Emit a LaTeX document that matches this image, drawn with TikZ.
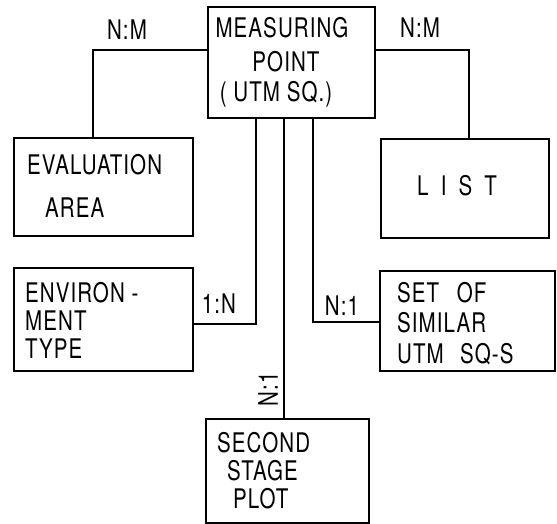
\documentclass[tikz,border=0pt]{standalone}
\usepackage{fontspec}
\setmainfont[FakeStretch=0.76,LetterSpace=4]{TeX Gyre Heros}
\usetikzlibrary{calc}
\begin{document}
\begin{tikzpicture}[x=1pt,y=-1pt,
  box/.style={draw,line width=2.2pt,rectangle,inner sep=0pt,anchor=north west},
  link/.style={line width=1.8pt},
  txt/.style={inner sep=0pt,anchor=base west,font=\fontsize{27}{27}\selectfont},
  ctxt/.style={inner sep=0pt,anchor=base,font=\fontsize{27}{27}\selectfont}]
\useasboundingbox (0,0) rectangle (557,524);
% boxes
\node[box,minimum width=167pt,minimum height=111pt] (mp) at (207,6) {};
\node[box,minimum width=179pt,minimum height=98pt] (eval) at (13,137) {};
\node[box,minimum width=168pt,minimum height=99pt] (list) at (380,138) {};
\node[box,minimum width=179pt,minimum height=103pt] (env) at (13,267) {};
\node[box,minimum width=175pt,minimum height=100pt] (set) at (379,270) {};
\node[box,minimum width=163pt,minimum height=104pt] (ssp) at (205,418) {};
% texts
\node[ctxt] (t1) at (282,38) {MEASURING};
\node[ctxt] (t2) at (286,72) {POINT};
\node[ctxt] (t3) at (276,102) {( UTM SQ.)};
\node[txt] (t4) at (27,175) {EVALUATION};
\node[txt] (t5) at (45,217) {AREA};
\node[txt] (t6) at (417,196) {L\hspace{0.45em}I\hspace{0.45em}S\hspace{0.45em}T};
\node[txt] (t7) at (25,302) {ENVIRON -};
\node[txt] (t8) at (25,330) {MENT};
\node[txt] (t9) at (25,358) {TYPE};
\node[txt] (t10) at (397,302) {SET\hspace{0.4em} OF};
\node[txt] (t11) at (397,332) {SIMILAR};
\node[txt] (t12) at (397,363) {UTM\hspace{0.35em} SQ-S};
\node[txt] (t13) at (217,452) {SECOND};
\node[txt] (t14) at (227,480) {STAGE};
\node[txt] (t15) at (233,508) {PLOT};
% connectors
\draw[link] ($(mp.north west)+(0,44)$) -| ($(eval.north west)+(80,0)$);
\draw[link] ($(mp.north east)+(0,44)$) -| ($(list.north west)+(89,0)$);
\draw[link] ($(mp.south west)+(49,0)$) |- ($(env.south east)+(0,-48)$);
\draw[link] ($(mp.south west)+(106,0)$) |- ($(set.south west)+(0,-50)$);
\draw[link] ($(mp.south west)+(77,0)$) -- ($(ssp.north west)+(79,0)$);
% labels
\node[ctxt] (l1) at (127,40) {N:M};
\node[ctxt] (l2) at (420,38) {N:M};
\node[ctxt] (l3) at (219,313) {1:N};
\node[ctxt] (l4) at (342,315) {N:1};
\node[inner sep=0pt,rotate=90,font=\fontsize{27}{27}\selectfont] (l5) at (268,389) {N:1};
\end{tikzpicture}
\end{document}
